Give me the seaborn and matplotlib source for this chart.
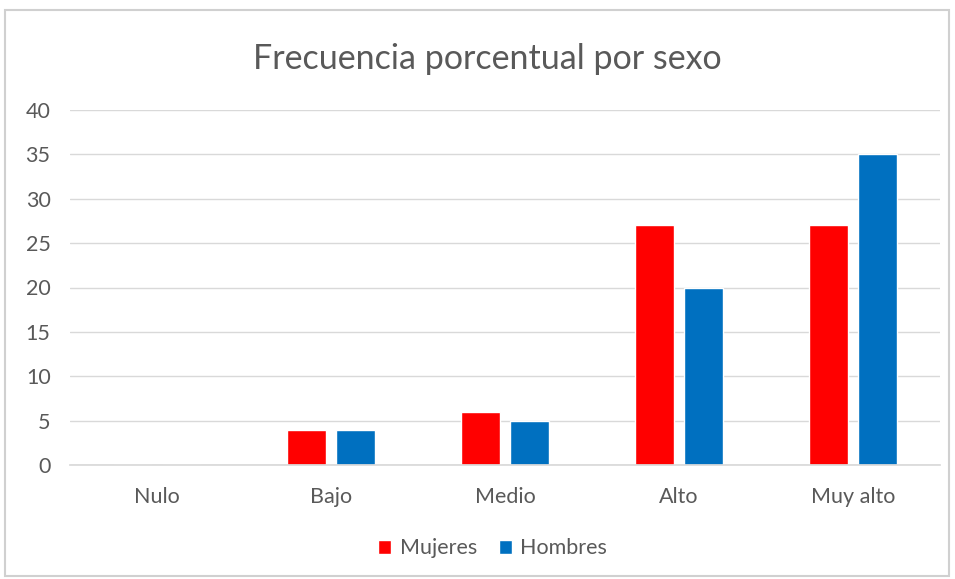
import matplotlib
matplotlib.use('Agg')
import matplotlib.pyplot as plt
import seaborn as sns
import pandas as pd
from matplotlib.patches import Rectangle

categorias = ['Nulo', 'Bajo', 'Medio', 'Alto', 'Muy alto']
mujeres = [0, 4, 6, 27, 27]
hombres = [0, 4, 5, 20, 35]
series = ['Mujeres', 'Hombres']
colores = ['#FF0000', '#0070C0']

df = pd.DataFrame({
    'categoria': categorias * 2,
    'valor': mujeres + hombres,
    'sexo': [series[0]] * len(categorias) + [series[1]] * len(categorias),
})

sns.set_theme(style='white')
plt.rcParams['font.family'] = ['Lato', 'DejaVu Sans']

fig = plt.figure(figsize=(9.55, 5.79), dpi=100)
ax = fig.add_axes([70 / 955, 1 - 465 / 579, 870 / 955, 355 / 579])

sns.barplot(data=df, x='categoria', y='valor', hue='sexo', order=categorias,
            hue_order=series, palette=colores, width=0.57, gap=0.21,
            saturation=1, ax=ax, legend=True)

ax.set_ylim(0, 40)
ax.set_yticks(range(0, 41, 5))
ax.set_xlim(-0.5, len(categorias) - 0.5)
ax.yaxis.grid(True, color='#D9D9D9', linewidth=1)
ax.set_axisbelow(True)
for s in ['top', 'right', 'left']:
    ax.spines[s].set_visible(False)
ax.spines['bottom'].set_color('#D9D9D9')
ax.set_xlabel('')
ax.set_ylabel('')
ax.tick_params(axis='both', length=0, labelsize=15.5, colors='#595959')
ax.tick_params(axis='x', pad=16)
ax.tick_params(axis='y', pad=14)

ax.legend(loc='center', bbox_to_anchor=(0.486, -0.235), ncol=2,
          frameon=False, fontsize=15.5, labelcolor='#595959',
          handlelength=0.6, handleheight=0.6, handletextpad=0.4, columnspacing=1.0)

fig.text(487 / 955, 1 - 59 / 579, 'Frecuencia porcentual por sexo', ha='center', va='center',
         fontsize=24.5, color='#595959')

fig.patches.append(Rectangle((5 / 955, 3 / 579), 944 / 955, 566 / 579,
                             transform=fig.transFigure, fill=False,
                             edgecolor='#D0D0D0', linewidth=1.5))

fig.savefig('out.png', dpi=100)
